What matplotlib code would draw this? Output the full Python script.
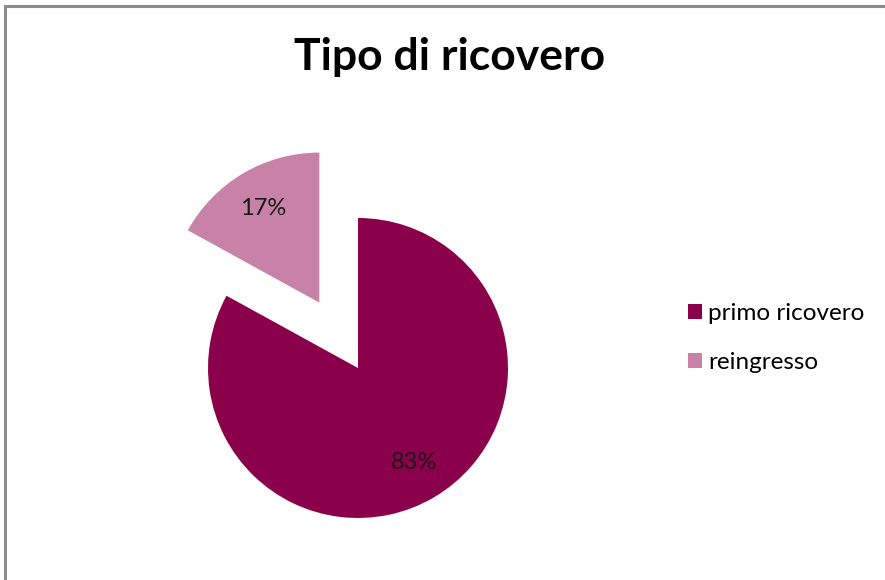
import matplotlib
matplotlib.use("Agg")
from matplotlib import pyplot as plt
from matplotlib.patches import Rectangle, Patch

labels = ["primo ricovero", "reingresso"]
values = [83, 17]
colors = ["#8B004B", "#C882A8"]

plt.rcParams['font.family'] = ['Lato', 'DejaVu Sans']

fig = plt.figure(figsize=(8.85, 5.8), dpi=100)
ax = fig.add_axes([0, 0, 1, 1])

# explode is in data units here (axes are laid out in pixels)
wedges, texts, autotexts = ax.pie(values, colors=colors, startangle=90, counterclock=False,
                                  explode=[0, 76], radius=150, center=(358, 212),
                                  autopct='%1.0f%%', pctdistance=0.73,
                                  textprops={'fontsize': 17, 'color': '#1a1a1a'},
                                  frame=False)
ax.set_xlim(0, 885)
ax.set_ylim(0, 580)
ax.set_aspect('equal')
ax.axis('off')

# chart border
fig.patches.append(Rectangle((5 / 885, -0.1), 1.2, (574 / 580) + 0.1, transform=fig.transFigure,
                             fill=False, edgecolor='#8c8c8c', linewidth=2.2))

fig.text(450 / 885, 1 - 57 / 580, "Tipo di ricovero", ha='center', va='center',
         fontsize=32, fontweight='bold', color='black')

handles = [Patch(facecolor=c, edgecolor='none') for c in colors]
fig.legend(handles, labels, loc='center left', bbox_to_anchor=(678 / 885, 1 - 338 / 580),
           frameon=False, fontsize=17.5, handlelength=0.6, handleheight=0.6,
           handletextpad=0.25, labelspacing=1.15, borderaxespad=0)

fig.savefig("out.png", dpi=100)
